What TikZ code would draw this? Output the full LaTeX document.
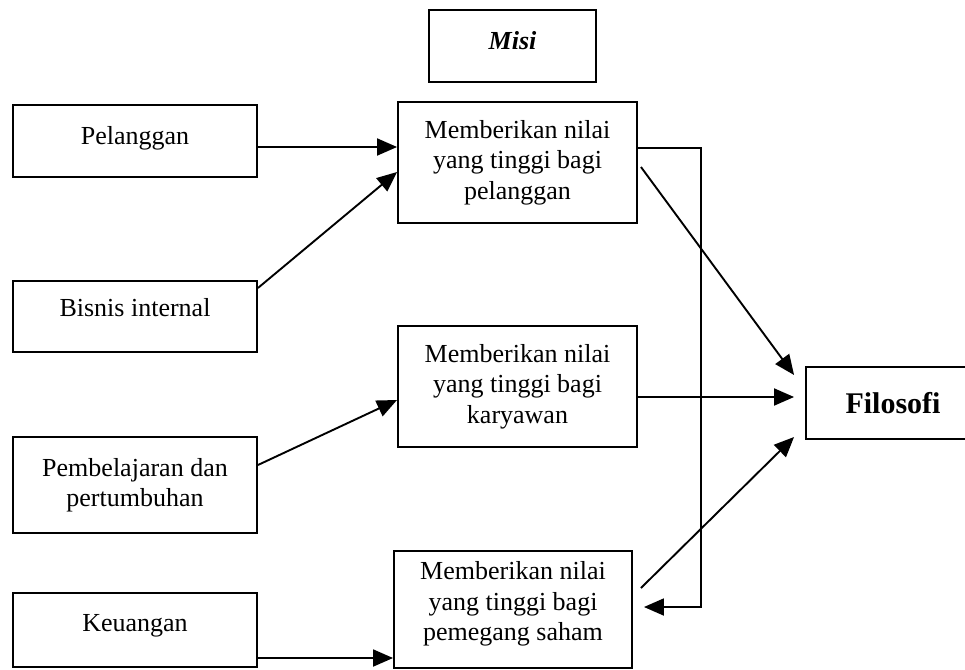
\documentclass[tikz,border=0pt]{standalone}
\usepackage{fontspec}
\setmainfont{Liberation Serif}
\usetikzlibrary{arrows.meta}
\begin{document}
\begin{tikzpicture}[x=1pt,y=-1pt,
  box/.style={draw, line width=1.9pt, inner sep=0pt, align=center,
    font=\fontsize{26}{30.5}\selectfont},
  arr/.style={line width=1.9pt, -{Triangle[length=20pt,width=17pt]}}]
\clip (0,0) rectangle (965,669);
\useasboundingbox (0,0) rectangle (965,669);
% top
\node[box, minimum width=167pt, minimum height=72pt, text depth=12pt, font=\fontsize{26}{30}\selectfont\bfseries\itshape] (misi) at (512.5,46) {Misi};
% left column
\node[box, minimum width=244pt, minimum height=72pt, text depth=11pt] (pel) at (135,141) {Pelanggan};
\node[box, minimum width=244pt, minimum height=71pt, text depth=18pt] (bis) at (135,316.5) {Bisnis internal};
\node[box, minimum width=244pt, minimum height=96pt] (pem) at (135,485) {Pembelajaran dan\\pertumbuhan};
\node[box, minimum width=244pt, minimum height=74pt, text depth=15pt] (keu) at (135,630) {Keuangan};
% middle column
\node[box, minimum width=239pt, minimum height=121pt] (m1) at (517.5,162.5) {Memberikan nilai\\yang tinggi bagi\\pelanggan};
\node[box, minimum width=239pt, minimum height=121pt] (m2) at (517.5,386.5) {Memberikan nilai\\yang tinggi bagi\\karyawan};
\node[box, minimum width=238pt, minimum height=117pt, text depth=17pt] (m4) at (513,609.5) {Memberikan nilai\\yang tinggi bagi\\pemegang saham};
% right
\node[box, minimum width=174pt, minimum height=72pt, font=\fontsize{30}{36}\selectfont\bfseries] (fil) at (893,403) {Filosofi};
% connectors left -> middle
\draw[arr] ([yshift=-6pt]pel.east) -- ([yshift=15.5pt]m1.west);
\draw[arr] ([yshift=28.5pt]bis.east) -- ([yshift=-9.5pt]m1.west);
\draw[arr] ([yshift=20pt]pem.east) -- ([yshift=-13.5pt]m2.west);
\draw[arr] ([yshift=-28pt]keu.east) -- ([yshift=-48.5pt]m4.west);
% middle -> Filosofi
\draw[arr] ([xshift=3pt,yshift=-4.5pt]m1.east) -- ([xshift=-11pt,yshift=28pt]fil.west);
\draw[arr] ([yshift=-10.5pt]m2.east) -- ([xshift=-11pt,yshift=6pt]fil.west);
\draw[arr] ([xshift=8pt,yshift=21.5pt]m4.east) -- ([xshift=-11pt,yshift=-34pt]fil.west);
% feedback loop
\draw[arr] ([yshift=14.5pt]m1.east) -- ++(63,0) |- ([xshift=11pt,yshift=2.5pt]m4.east);
\end{tikzpicture}
\end{document}
